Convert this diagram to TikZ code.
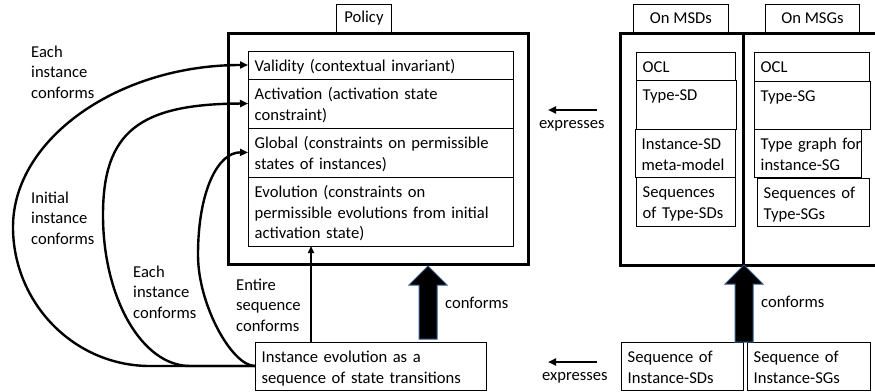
\documentclass[tikz,border=0pt]{standalone}
\usepackage{fontspec}
\setmainfont{Carlito}
\usetikzlibrary{arrows.meta}
\definecolor{arrowrim}{RGB}{56,93,138}

% one table cell: name, x1, y1, x2, y2, text (top-left aligned)
\newcommand\cell[6]{%
  \node[cellbox, minimum width={#4-#2}, minimum height={#5-#3}, anchor=north west] (#1) at (#2,#3) {};
  \node[txt, anchor=base west] at ([xshift=6.5pt, yshift=-20.5pt]#1.north west) {#6};
}
% thick upward block arrow: x of the tip, y of the tip, y of the tail
\newcommand\bigup[3]{%
  \draw[blockarrow] (#1-9,#3) -- (#1-9,#2+19) -- (#1-19,#2+19) -- (#1,#2)
    -- (#1+19,#2+19) -- (#1+9,#2+19) -- (#1+9,#3) -- cycle;
}

\begin{document}
\begin{tikzpicture}[x=1pt, y=-1pt,
  txt/.style={font=\fontsize{16.6}{20.5}\selectfont, inner sep=0pt, align=left, text width=300pt},
  lbl/.style={txt, anchor=base west},
  cellbox/.style={draw, line width=0.9pt, inner sep=0pt, outer sep=0pt},
  frame/.style={draw, line width=3pt, inner sep=0pt, outer sep=0pt, anchor=north west},
  tab/.style={draw, line width=0.9pt, font=\fontsize{16.6}{20.5}\selectfont, inner sep=0pt,
    minimum height=28pt, anchor=north west},
  curve/.style={line width=2.4pt, -{Triangle[length=8pt, width=7pt]}},
  thinarrow/.style={line width=1.6pt, -{Triangle[length=7pt, width=6pt]}},
  exarrow/.style={line width=2pt, -{Triangle[length=8pt, width=7pt]}},
  blockarrow/.style={fill=black, draw=arrowrim, line width=1pt, line join=miter}
]
\clip (0,0) rectangle (875,391);

% tabs above the frames
\node[tab, minimum width=55pt] (tpol) at (336,4) {Policy};
\node[tab, minimum width=95pt] (tmsd) at (633,4) {On MSDs};
\node[tab, minimum width=94pt] (tmsg) at (765,4) {On MSGs};

% frames
\node[frame, minimum width=300pt, minimum height=231pt] (pol) at (228,33) {};
\node[frame, minimum width=123pt, minimum height=232pt] (msd) at (620,33) {};
\node[frame, minimum width=150pt, minimum height=232pt] (msg) at (743,33) {};

% policy parts
\cell{val}{248}{51}{513}{79}{Validity (contextual invariant)}
\cell{act}{248}{79}{513}{128}{Activation (activation state\\constraint)}
\cell{glo}{248}{128}{513}{177}{Global (constraints on permissible\\states of instances)}
\cell{evo}{248}{177}{513}{246}{Evolution (constraints on\\permissible evolutions from initial\\activation state)}

% MSD column
\cell{ocla}{636}{52}{735}{80}{OCL}
\cell{tsd}{636}{80}{736}{129}{Type-SD}
\cell{isd}{635}{129}{735}{177}{Instance-SD\\meta-model}
\cell{ssd}{636}{177}{735}{226}{Sequences\\of Type-SDs}

% MSG column
\cell{oclb}{754}{52}{869}{81}{OCL}
\cell{tsg}{754}{81}{870}{129}{Type-SG}
\cell{tgi}{754}{129}{861}{177}{Type graph for\\instance-SG}
\cell{ssg}{757}{178}{869}{226}{Sequences of\\Type-SGs}

% instance level
\cell{ie}{255}{342}{486}{390}{Instance evolution as a\\sequence of state transitions}
\cell{sid}{621}{342}{743}{390}{Sequence of\\Instance-SDs}
\cell{sig}{747}{342}{870}{390}{Sequence of\\Instance-SGs}

% conformance curves
\draw[curve] (ie.west) -- (150,366) .. controls (74,366) and (13,303) .. (13,227)
  .. controls (13,139) and (118,65) .. (val.west);
\draw[curve] (ie.west) -- (190,366) .. controls (142,366) and (103,298) .. (103,215)
  .. controls (103,132) and (139,104) .. (act.west);
\draw[curve] (ie.west) .. controls (232,366) and (198,305) .. (198,255)
  .. controls (198,191) and (218,152) .. (glo.west);

\coordinate (esb) at (311,342);
\draw[thinarrow] (esb) -- (esb |- evo.south);

% expresses arrows
\coordinate (ex1) at (597,110);
\coordinate (ex1t) at (548,110);
\draw[exarrow] (ex1) -- (ex1t);
\coordinate (ex2) at (597,362);
\coordinate (ex2t) at (548,362);
\draw[exarrow] (ex2) -- (ex2t);

% block arrows
\bigup{428}{266}{339}
\bigup{744}{265}{342}

% labels
\node[lbl] (l1) at (31,57) {Each\\instance\\conforms};
\node[lbl] (l2) at (31,203) {Initial\\instance\\conforms};
\node[lbl] (l3) at (133,277) {Each\\instance\\conforms};
\node[lbl] (l4) at (236,290) {Entire\\sequence\\conforms};
\node[lbl] (l5) at (445,308) {conforms};
\node[lbl] (l6) at (761,307) {conforms};
\node[lbl] (l7) at (539,128) {expresses};
\node[lbl] (l8) at (542,380) {expresses};
\end{tikzpicture}
\end{document}
